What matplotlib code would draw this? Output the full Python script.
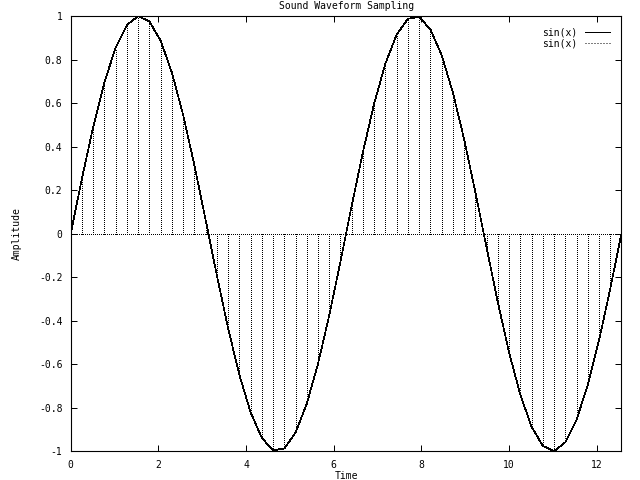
import matplotlib
matplotlib.use("Agg")
import matplotlib.pyplot as plt
from matplotlib.lines import Line2D

# sample times (50 samples over 0..4pi)
time = [0.0, 0.256, 0.513, 0.769, 1.026, 1.282, 1.539, 1.795, 2.052, 2.308,
        2.565, 2.821, 3.077, 3.334, 3.590, 3.847, 4.103, 4.360, 4.616, 4.873,
        5.129, 5.386, 5.642, 5.899, 6.155, 6.411, 6.668, 6.924, 7.181, 7.437,
        7.694, 7.950, 8.207, 8.463, 8.720, 8.976, 9.232, 9.489, 9.745, 10.002,
        10.258, 10.515, 10.771, 11.028, 11.284, 11.541, 11.797, 12.054, 12.310, 12.566]
# sampled amplitude
amp = [0.0, 0.2537, 0.4907, 0.6960, 0.8551, 0.9587, 0.9995, 0.9749, 0.8866, 0.7403,
       0.5455, 0.3151, 0.0641, -0.1912, -0.4339, -0.6482, -0.8206, -0.9385, -0.9954, -0.9872,
       -0.9144, -0.7818, -0.5981, -0.3752, -0.1279, 0.1279, 0.3752, 0.5981, 0.7818, 0.9144,
       0.9872, 0.9954, 0.9385, 0.8206, 0.6482, 0.4339, 0.1912, -0.0641, -0.3151, -0.5455,
       -0.7403, -0.8866, -0.9749, -0.9995, -0.9587, -0.8551, -0.6960, -0.4907, -0.2537, 0.0]
yticks = [-1, -0.8, -0.6, -0.4, -0.2, 0, 0.2, 0.4, 0.6, 0.8, 1]
xticks = [0, 2, 4, 6, 8, 10, 12]

plt.rcParams['font.family'] = 'DejaVu Sans Mono'
plt.rcParams['font.size'] = 7

fig = plt.figure(figsize=(6.4, 4.8), dpi=100)
ax = fig.add_axes([0.1105, 0.0598, 0.8605, 0.9069])

dot = (0, (1, 2))
ax.plot(time, amp, color='black', lw=0.5, antialiased=False)
ax.vlines(time, 0, amp, colors='black', linestyles=dot, lw=0.72, antialiased=False)
ax.axhline(0, color='black', linestyle=dot, lw=0.72, antialiased=False)

ax.set_xlim(0, 12.566)
ax.set_ylim(-1, 1)
ax.set_xticks(xticks)
ax.set_yticks(yticks)
ax.set_yticklabels([f"{v:g}" for v in yticks])
ax.tick_params(direction='in', length=4.5, width=0.72, top=True, right=True, pad=6)
for s in ax.spines.values():
    s.set_linewidth(0.8)

ax.set_title("Sound Waveform Sampling", fontsize=7, pad=5)
ax.set_xlabel("Time", labelpad=1)
ax.set_ylabel("Amplitude", labelpad=12)

handles = [Line2D([], [], color='black', lw=0.72),
           Line2D([], [], color='black', lw=0.72, linestyle=dot)]
ax.legend(handles, ["sin(x)", "sin(x)"], loc='upper right', frameon=False,
          markerfirst=False, handlelength=2.5, handletextpad=0.8,
          labelspacing=0.05, borderaxespad=0.8, fontsize=7)

fig.savefig("out.png", dpi=100)
